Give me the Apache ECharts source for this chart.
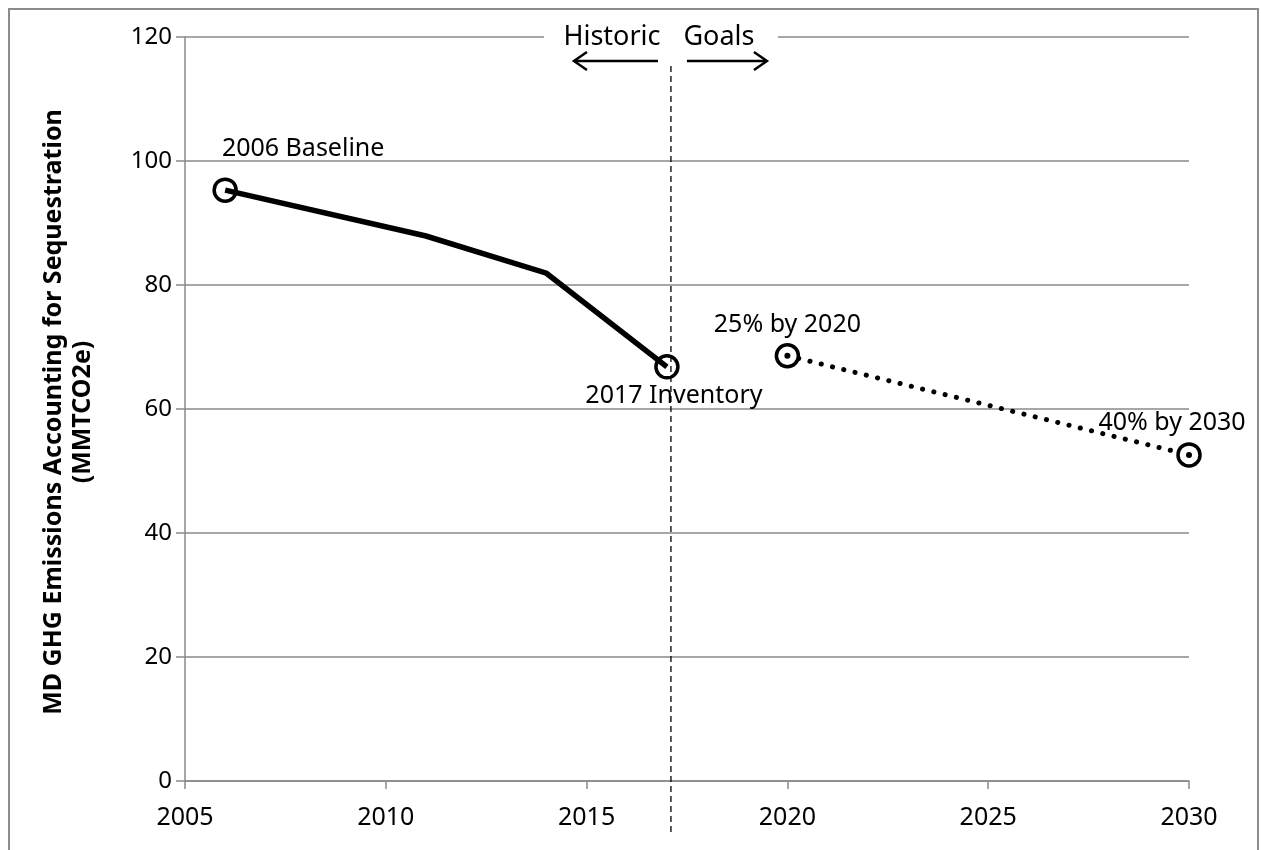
<!DOCTYPE html>
<html>
<head>
<meta charset="utf-8">
<script src="https://cdn.jsdelivr.net/npm/echarts@6/dist/echarts.min.js"></script>
<style>
  html, body { margin: 0; padding: 0; background: #fff; }
  #chart { width: 1261px; height: 850px; }
</style>
</head>
<body>
<div id="chart"></div>
<script>
// Maryland GHG emissions net of sequestration (MMTCO2e)
const historicYears = [2006, 2011, 2014, 2017];
const historicValues = [95.3, 87.9, 81.9, 66.8];
const goalYears = [2020, 2030];
const goalValues = [68.6, 52.6];

// Labelled milestones
const historicMarkYears = [2006, 2017];
const historicMarkValues = [95.3, 66.8];
const historicMarkLabels = ['2006 Baseline', '2017 Inventory'];
const goalLabels = ['25% by 2020', '40% by 2030'];

const yTicks = [0, 20, 40, 60, 80, 100, 120];
const xTicks = [2005, 2010, 2015, 2020, 2025, 2030];
const dividerYear = 2017.1;
const axisTitleLines = ['MD GHG Emissions Accounting for Sequestration', '(MMTCO2e)'];

const FONT = '"Noto Sans", "Open Sans", sans-serif';
const GRID_GRAY = '#8a8a8a';

const chart = echarts.init(document.getElementById('chart'), null, { renderer: 'canvas' });

const pairs = (xs, ys) => xs.map((x, i) => [x, ys[i]]);
const labelStyle = { color: '#000', fontSize: 25, fontFamily: FONT, textBorderWidth: 0 };

const option = {
  animation: false,
  backgroundColor: '#fff',
  grid: { left: 185, right: 72, top: 37, bottom: 69, containLabel: false },
  xAxis: {
    type: 'value',
    min: xTicks[0], max: xTicks[xTicks.length - 1], interval: 5,
    axisLine: { show: true, lineStyle: { color: GRID_GRAY, width: 1.5 } },
    axisTick: { show: true, inside: false, length: 8, lineStyle: { color: GRID_GRAY, width: 1.5 } },
    splitLine: { show: false },
    axisLabel: { color: '#000', fontSize: 25, fontFamily: FONT, margin: 24, formatter: v => String(v) }
  },
  yAxis: {
    type: 'value',
    min: yTicks[0], max: yTicks[yTicks.length - 1], interval: 20,
    axisLine: { show: true, lineStyle: { color: GRID_GRAY, width: 1.5 } },
    axisTick: { show: true, inside: false, length: 9, lineStyle: { color: GRID_GRAY, width: 1.5 } },
    splitLine: { show: true, lineStyle: { color: GRID_GRAY, width: 1.5 } },
    axisLabel: { color: '#000', fontSize: 24, fontFamily: FONT, margin: 13 }
  },
  series: [
    {
      name: 'Historic',
      type: 'line',
      data: pairs(historicYears, historicValues),
      symbol: 'none',
      lineStyle: { color: '#000', width: 5.5, join: 'miter', opacity: 1 },
      z: 3
    },
    {
      name: 'Historic markers',
      type: 'scatter',
      data: pairs(historicMarkYears, historicMarkValues).map((p, i) => ({
        value: p,
        label: Object.assign({ show: true, formatter: historicMarkLabels[i] }, labelStyle,
          i === 0 ? { position: 'top', offset: [78, -11] } : { position: 'bottom', offset: [7, -1] })
      })),
      symbol: 'circle',
      symbolSize: 22,
      itemStyle: { color: 'rgba(0,0,0,0)', borderColor: '#000', borderWidth: 3.5, opacity: 1 },
      label: labelStyle,
      z: 4
    },
    {
      name: 'Goals',
      type: 'line',
      data: pairs(goalYears, goalValues),
      symbol: 'none',
      lineStyle: { color: '#000', width: 5, type: [0.1, 11.5], cap: 'round', opacity: 1 },
      z: 3
    },
    {
      name: 'Goal markers',
      type: 'scatter',
      data: pairs(goalYears, goalValues).map((p, i) => ({
        value: p,
        label: Object.assign({ show: true, formatter: goalLabels[i] }, labelStyle,
          i === 0 ? { position: 'top', offset: [0, -1] } : { position: 'top', offset: [-17, -2] })
      })),
      symbol: 'circle',
      symbolSize: 22,
      itemStyle: { color: '#fff', borderColor: '#000', borderWidth: 3.5, opacity: 1 },
      label: labelStyle,
      z: 4
    },
    {
      name: 'Goal centres',
      type: 'scatter',
      data: pairs(goalYears, goalValues),
      symbol: 'circle',
      symbolSize: 6,
      itemStyle: { color: '#000', opacity: 1 },
      z: 5,
      silent: true
    }
  ]
};

chart.setOption(option);

// Divider between historic data and goals, with its captions and arrows
const dx = chart.convertToPixel({ gridIndex: 0 }, [dividerYear, 0])[0];
const topY = chart.convertToPixel({ gridIndex: 0 }, [dividerYear, yTicks[yTicks.length - 1]])[1];

function arrow(x1, x2, y) {
  const dir = x2 > x1 ? 1 : -1;
  return {
    type: 'group',
    children: [
      { type: 'line', shape: { x1: x1, y1: y, x2: x2, y2: y }, style: { stroke: '#000', lineWidth: 2.5 } },
      { type: 'polyline', shape: { points: [[x2 - dir * 13, y - 9], [x2, y], [x2 - dir * 13, y + 9]] },
        style: { stroke: '#000', lineWidth: 2.5, fill: null } }
    ]
  };
}

chart.setOption({
  graphic: [
    {
      type: 'rect',
      shape: { x: 9, y: 9, width: 1249, height: 860 },
      style: { fill: null, stroke: '#8c8c8c', lineWidth: 2 },
      silent: true, z: 0
    },
    {
      type: 'rect',
      shape: { x: dx - 127, y: topY - 6, width: 234, height: 12 },
      style: { fill: '#fff' },
      silent: true, z: 10
    },
    {
      type: 'line',
      shape: { x1: dx, y1: 66, x2: dx, y2: 836 },
      style: { stroke: '#000', lineWidth: 1.3, lineDash: [6, 4] },
      silent: true, z: 10
    },
    {
      type: 'text',
      x: dx - 59, y: topY,
      style: { text: 'Historic', fill: '#000', font: '27px ' + FONT, align: 'center', verticalAlign: 'middle' },
      z: 11
    },
    {
      type: 'text',
      x: dx + 48, y: topY,
      style: { text: 'Goals', fill: '#000', font: '27px ' + FONT, align: 'center', verticalAlign: 'middle' },
      z: 11
    },
    Object.assign(arrow(dx - 13, dx - 97, topY + 24), { z: 11 }),
    Object.assign(arrow(dx + 16, dx + 96, topY + 24), { z: 11 }),
    {
      type: 'text',
      x: 54, y: 412, rotation: Math.PI / 2,
      style: { text: axisTitleLines[0], fill: '#000', font: 'bold 25px ' + FONT, align: 'center', verticalAlign: 'middle' },
      z: 11
    },
    {
      type: 'text',
      x: 83, y: 412, rotation: Math.PI / 2,
      style: { text: axisTitleLines[1], fill: '#000', font: 'bold 25px ' + FONT, align: 'center', verticalAlign: 'middle' },
      z: 11
    }
  ]
});
</script>
</body>
</html>
